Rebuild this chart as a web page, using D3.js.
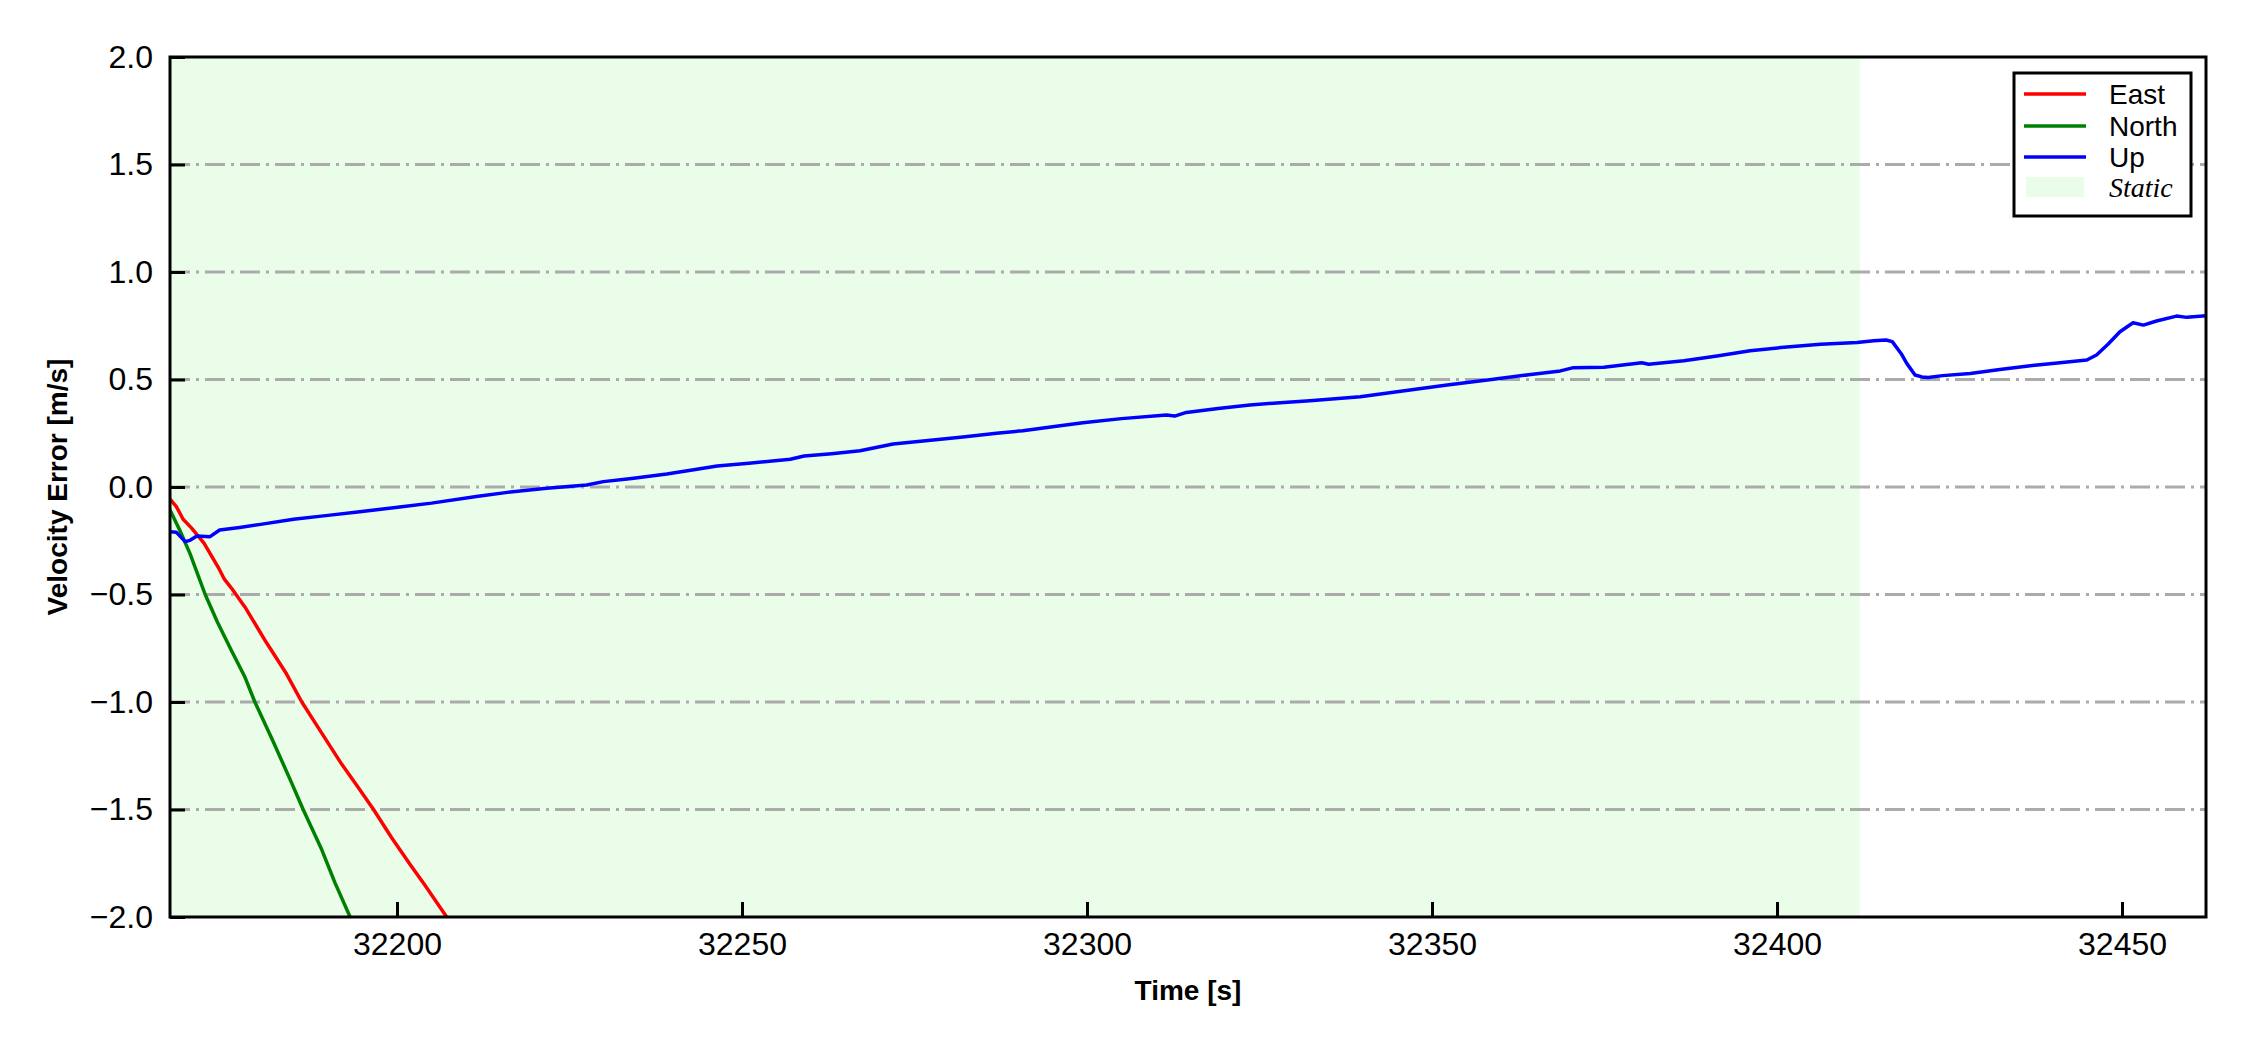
<!DOCTYPE html>
<html>
<head>
<meta charset="utf-8">
<script src="https://cdn.jsdelivr.net/npm/d3@7"></script>
<style>
  html, body { margin: 0; padding: 0; background: #fff; }
  svg { display: block; font-family: "Liberation Sans", Arial, sans-serif; }
</style>
</head>
<body>
<div id="draw_svg"></div>
<script>
// 读图得到的数据 (time [s], velocity error [m/s])
const eastT = [32167.1, 32168.0, 32169.0, 32170.2, 32172.0, 32174.2, 32175.0, 32176.0, 32178.0, 32181.0,
  32184.0, 32186.2, 32189.0, 32192.0, 32194.0, 32196.6, 32199.2, 32202.0, 32204.0, 32207.2, 32208.5];
const eastV = [-0.057, -0.09, -0.15, -0.19, -0.26, -0.38, -0.43, -0.47, -0.56, -0.72,
  -0.87, -1.00, -1.14, -1.29, -1.38, -1.50, -1.63, -1.76, -1.85, -2.00, -2.06];

const northT = [32167.1, 32168.5, 32170.0, 32172.2, 32174.0, 32176.0, 32177.9, 32179.4, 32182.0,
  32184.5, 32186.4, 32189.0, 32191.0, 32193.2, 32194.0];
const northV = [-0.107, -0.20, -0.31, -0.50, -0.63, -0.76, -0.88, -1.00, -1.18,
  -1.36, -1.50, -1.68, -1.84, -2.00, -2.06];

const upT = [32167.1, 32168.0, 32169.3, 32170.0, 32171.0, 32172.9, 32174.3, 32177.2, 32180.0, 32185.0,
  32190.0, 32194.6, 32200.4, 32205.0, 32211.5, 32216.0, 32221.7, 32227.5, 32229.9, 32234.0,
  32239.1, 32243.0, 32246.4, 32251.0, 32257.0, 32259.0, 32263.0, 32267.1, 32271.9, 32277.7,
  32282.0, 32286.9, 32290.7, 32295.0, 32299.4, 32305.0, 32311.5, 32312.7, 32314.4, 32319.0,
  32323.6, 32328.0, 32332.3, 32339.6, 32346.0, 32352.2, 32358.9, 32364.0, 32368.6, 32370.5,
  32374.9, 32380.4, 32381.4, 32386.5, 32391.3, 32396.1, 32401.0, 32406.3, 32411.6, 32414.0,
  32415.8, 32416.7, 32418.0, 32418.8, 32420.0, 32421.0, 32421.9, 32424.0, 32428.0, 32432.3,
  32437.0, 32441.0, 32444.9, 32446.3, 32448.0, 32449.7, 32451.6, 32453.1, 32455.0, 32457.9,
  32459.4, 32462.2];
const upV = [-0.208, -0.21, -0.254, -0.248, -0.228, -0.231, -0.20, -0.188, -0.175, -0.15,
  -0.132, -0.115, -0.093, -0.075, -0.044, -0.025, -0.006, 0.009, 0.025, 0.040,
  0.060, 0.080, 0.098, 0.110, 0.129, 0.144, 0.155, 0.169, 0.200, 0.219,
  0.233, 0.250, 0.262, 0.280, 0.299, 0.318, 0.335, 0.330, 0.347, 0.365,
  0.381, 0.392, 0.401, 0.420, 0.448, 0.474, 0.501, 0.522, 0.540, 0.555,
  0.557, 0.578, 0.571, 0.587, 0.609, 0.634, 0.650, 0.664, 0.672, 0.680,
  0.684, 0.676, 0.620, 0.575, 0.521, 0.512, 0.509, 0.518, 0.528, 0.547,
  0.565, 0.578, 0.591, 0.614, 0.665, 0.722, 0.764, 0.753, 0.772, 0.795,
  0.789, 0.797];

const staticSpan = [32167.1, 32412.0];
const xDomain = [32167.1, 32462.17];
const yDomain = [-2.0, 2.0];
const xTicks = [32200, 32250, 32300, 32350, 32400, 32450];
const yTicks = [-2.0, -1.5, -1.0, -0.5, 0.0, 0.5, 1.0, 1.5, 2.0];

const seriesNames = ['East', 'North', 'Up'];
const seriesColors = ['#ff0000', '#008000', '#0000ff'];
const staticColor = '#e9fde9';

const W = 2250, H = 1050;
const margin = {left: 170, top: 57, right: 2250 - 2206, bottom: 1050 - 917};
const pw = W - margin.left - margin.right;
const ph = H - margin.top - margin.bottom;

pageInit = () => {
  const svg = d3.select('#draw_svg')
    .append('svg')
    .attr('width', W)
    .attr('height', H);

  const x = d3.scaleLinear().domain(xDomain).range([0, pw]);
  const y = d3.scaleLinear().domain(yDomain).range([ph, 0]);

  const g = svg.append('g').attr('transform', `translate(${margin.left},${margin.top})`);

  g.append('clipPath').attr('id', 'clip')
    .append('rect').attr('width', pw).attr('height', ph);

  // 静止区间
  g.append('rect')
    .attr('x', x(staticSpan[0]))
    .attr('y', 0)
    .attr('width', x(staticSpan[1]) - x(staticSpan[0]))
    .attr('height', ph)
    .attr('fill', staticColor);

  // 网格线
  g.append('g').selectAll('line')
    .data(yTicks.filter(d => d > yDomain[0] && d < yDomain[1]))
    .enter()
    .append('line')
    .attr('x1', 0).attr('x2', pw)
    .attr('y1', d => y(d)).attr('y2', d => y(d))
    .attr('stroke', '#ababab')
    .attr('stroke-width', 3)
    .attr('stroke-dasharray', '20,6,3,6');

  // 曲线
  const data = [
    eastT.map((t, i) => [t, eastV[i]]),
    northT.map((t, i) => [t, northV[i]]),
    upT.map((t, i) => [t, upV[i]])
  ];
  const line = d3.line().x(d => x(d[0])).y(d => y(d[1]));
  g.append('g').attr('clip-path', 'url(#clip)')
    .selectAll('path')
    .data(data)
    .enter()
    .append('path')
    .attr('d', line)
    .attr('fill', 'none')
    .attr('stroke', (d, i) => seriesColors[i])
    .attr('stroke-width', 3.5)
    .attr('stroke-linejoin', 'round');

  // 坐标轴
  const xAxis = g.append('g')
    .attr('transform', `translate(0,${ph})`)
    .call(d3.axisBottom(x).tickValues(xTicks).tickFormat(d3.format('d')).tickSize(-15).tickPadding(15));
  const yAxis = g.append('g')
    .call(d3.axisLeft(y).tickValues(yTicks).tickFormat(d3.format('.1f')).tickSize(-15).tickPadding(17));

  [xAxis, yAxis].forEach(a => {
    a.select('.domain').remove();
    a.selectAll('.tick line').attr('stroke', '#000').attr('stroke-width', 3);
    a.selectAll('.tick text')
      .attr('font-size', 32)
      .attr('fill', '#000')
      .attr('font-family', '"Liberation Sans", Arial, sans-serif');
  });

  // 边框
  g.append('rect')
    .attr('width', pw).attr('height', ph)
    .attr('fill', 'none')
    .attr('stroke', '#000')
    .attr('stroke-width', 3);

  // 轴标题
  svg.append('text')
    .attr('x', margin.left + pw / 2)
    .attr('y', 990)
    .attr('text-anchor', 'middle')
    .attr('dominant-baseline', 'central')
    .attr('font-size', 28)
    .attr('font-weight', 'bold')
    .text('Time [s]');

  svg.append('text')
    .attr('transform', `translate(57,${margin.top + ph / 2}) rotate(-90)`)
    .attr('text-anchor', 'middle')
    .attr('dominant-baseline', 'central')
    .attr('font-size', 28)
    .attr('font-weight', 'bold')
    .text('Velocity Error [m/s]');

  // 图例
  const lg = svg.append('g').attr('transform', 'translate(2014,73)');
  lg.append('rect')
    .attr('width', 177).attr('height', 143)
    .attr('fill', '#fff')
    .attr('stroke', '#000')
    .attr('stroke-width', 3);
  const rowY = [21, 53, 84, 114];
  seriesNames.forEach((name, i) => {
    lg.append('line')
      .attr('x1', 10).attr('x2', 72)
      .attr('y1', rowY[i]).attr('y2', rowY[i])
      .attr('stroke', seriesColors[i])
      .attr('stroke-width', 3.5);
    lg.append('text')
      .attr('x', 95).attr('y', rowY[i])
      .attr('dominant-baseline', 'central')
      .attr('font-size', 28)
      .text(name);
  });
  lg.append('rect')
    .attr('x', 12).attr('y', rowY[3] - 10)
    .attr('width', 58).attr('height', 20)
    .attr('fill', staticColor);
  lg.append('text')
    .attr('x', 95).attr('y', rowY[3])
    .attr('dominant-baseline', 'central')
    .attr('font-size', 28)
    .attr('font-style', 'italic')
    .attr('font-family', '"Liberation Serif", "Times New Roman", serif')
    .text('Static');
}

window.onload = () => {
  pageInit();
}
</script>
</body>
</html>
